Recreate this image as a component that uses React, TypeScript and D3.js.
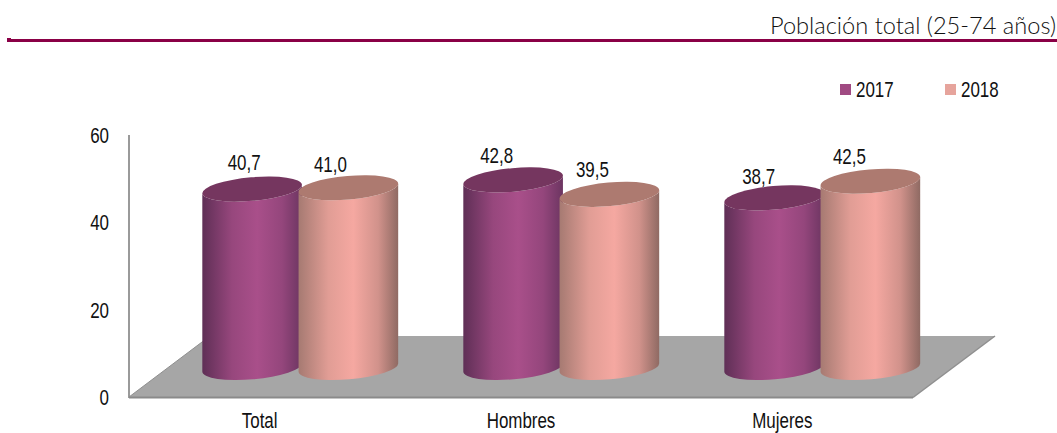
import React from "react";
import * as d3 from "d3";

const categories = ["Total", "Hombres", "Mujeres"];
const seriesNames = ["2017", "2018"];
const values2017 = [40.7, 42.8, 38.7];
const values2018 = [41.0, 39.5, 42.5];
const yTicks = [0, 20, 40, 60];
const title = "Población total (25-74 años)";

const W = 1057, H = 433;
const fmt = (v: number) => d3.format(".1f")(v).replace(".", ",");

// wall axis
const yAxis = d3.scaleLinear().domain([0, 60]).range([397, 135]);
// depth plane where cylinders stand
const yBar = d3.scaleLinear().domain([0, 60]).range([367.5, 104.5]);
const xFront = d3.scaleBand<string>().domain(categories).range([129, 913]);
const xBack = d3.scaleBand<string>().domain(categories).range([170, 953]);
const xSeries = d3.scaleBand<string>().domain(seriesNames).range([34, 226.5]);

// label nudges relative to each cylinder top [series][category]
const labelDx = [[-8, -16.5, -15.5], [-18, -17, -21]];
const labelDy = [[-19, -17, -14], [-16, -17.5, -17]];

const RX = 50, RY = 11.8, ROT = -5;
const rad = (ROT * Math.PI) / 180;

function bodyPath(cx: number, top: number, bottom: number) {
  const dx = RX * Math.cos(rad), dy = RX * Math.sin(rad);
  return `M${cx - dx},${top - dy} L${cx - dx},${bottom - dy}
    A${RX},${RY} ${ROT} 0 0 ${cx + dx},${bottom + dy}
    L${cx + dx},${top + dy} A${RX},${RY} ${ROT} 0 1 ${cx - dx},${top - dy} Z`;
}

const palette = [
  { id: "g17", edgeL: "#5f2f56", mid: "#a94f8a", edgeR: "#6c3561", top: "#75365f", legend: "#a04a82" },
  { id: "g18", edgeL: "#a67a72", mid: "#f5a8a1", edgeR: "#8f6a63", top: "#ad7a70", legend: "#e6a49c" },
];

function T(props: { x: number; y: number; children: React.ReactNode; anchor?: string }) {
  const { x, y, children, anchor = "middle" } = props;
  return (
    <text transform={`translate(${x},${y}) scale(0.77,1)`} textAnchor={anchor as any} fontFamily="'Liberation Sans', Arial, sans-serif" fontSize={22} fill="#111">
      {children}
    </text>
  );
}

export default function App() {
  const series = [values2017, values2018];
  const floor = d3.line()([[129, 397], [913, 397.5], [995, 336], [210, 336]]) + "Z";
  return (
    <svg width={W} height={H} viewBox={`0 0 ${W} ${H}`} style={{ position: "absolute", left: 0, top: 0, background: "#fff" }}>
      <defs>
        {palette.map((p) => (
          <linearGradient key={p.id} id={p.id} x1="0" x2="1" y1="0" y2="0">
            <stop offset="0" stopColor={p.edgeL} />
            <stop offset="0.3" stopColor={d3.interpolateRgb(p.edgeL, p.mid)(0.75)} />
            <stop offset="0.55" stopColor={p.mid} />
            <stop offset="0.8" stopColor={d3.interpolateRgb(p.mid, p.edgeR)(0.35)} />
            <stop offset="1" stopColor={p.edgeR} />
          </linearGradient>
        ))}
      </defs>

      {/* header */}
      <text x={770} y={34} textLength={286} lengthAdjust="spacingAndGlyphs" fontFamily="Lato, sans-serif" fontWeight={300} fontSize={23} fill="#111">{title}</text>
      <rect x={7} y={39} width={1050} height={3} fill="#8a0046" />
      <rect x={7} y={38} width={4} height={2} fill="#8a0046" />

      {/* legend */}
      {seriesNames.map((s, i) => {
        const x = i === 0 ? 840 : 945;
        return (
          <g key={s}>
            <rect x={x} y={84} width={11} height={11} fill={palette[i].legend} />
            <T x={x + 16} y={97} anchor="start">{s}</T>
          </g>
        );
      })}

      {/* axes and floor */}
      <path d={floor} fill="#a6a6a6" />
      <line x1={129} x2={129} y1={yAxis(60)} y2={398} stroke="#9a9a9a" strokeWidth={2} />
      <line x1={129} x2={913} y1={397.5} y2={397.5} stroke="#8a8a8a" strokeWidth={2} />
      <line x1={129} x2={210} y1={397} y2={336} stroke="#8f8f8f" strokeWidth={1} />
      <line x1={913} x2={995} y1={397.5} y2={336} stroke="#8f8f8f" strokeWidth={1.5} />
      {yTicks.map((t) => (
        <T key={t} x={109} y={yAxis(t) + 8} anchor="end">{t}</T>
      ))}
      {categories.map((c) => (
        <T key={c} x={xFront(c)! + xFront.bandwidth() / 2} y={428}>{c}</T>
      ))}

      {/* cylinders */}
      {categories.map((c, ci) => (
        <g key={c}>
          {series.map((vals, si) => {
            const p = palette[si];
            const cx = xBack(c)! + xSeries(seriesNames[si])! + xSeries.bandwidth() / 2;
            const top = yBar(vals[ci]);
            const bottom = yBar(0);
            return (
              <g key={si}>
                <path d={bodyPath(cx, top, bottom)} fill={`url(#${p.id})`} />
                <ellipse cx={cx} cy={top} rx={RX} ry={RY} fill={p.top} transform={`rotate(${ROT},${cx},${top})`} />
              </g>
            );
          })}
        </g>
      ))}

      {/* value labels */}
      {categories.map((c, ci) =>
        series.map((vals, si) => {
          const cx = xBack(c)! + xSeries(seriesNames[si])! + xSeries.bandwidth() / 2;
          return (
            <T key={c + si} x={cx + labelDx[si][ci]} y={yBar(vals[ci]) + labelDy[si][ci]}>{fmt(vals[ci])}</T>
          );
        })
      )}
    </svg>
  );
}
